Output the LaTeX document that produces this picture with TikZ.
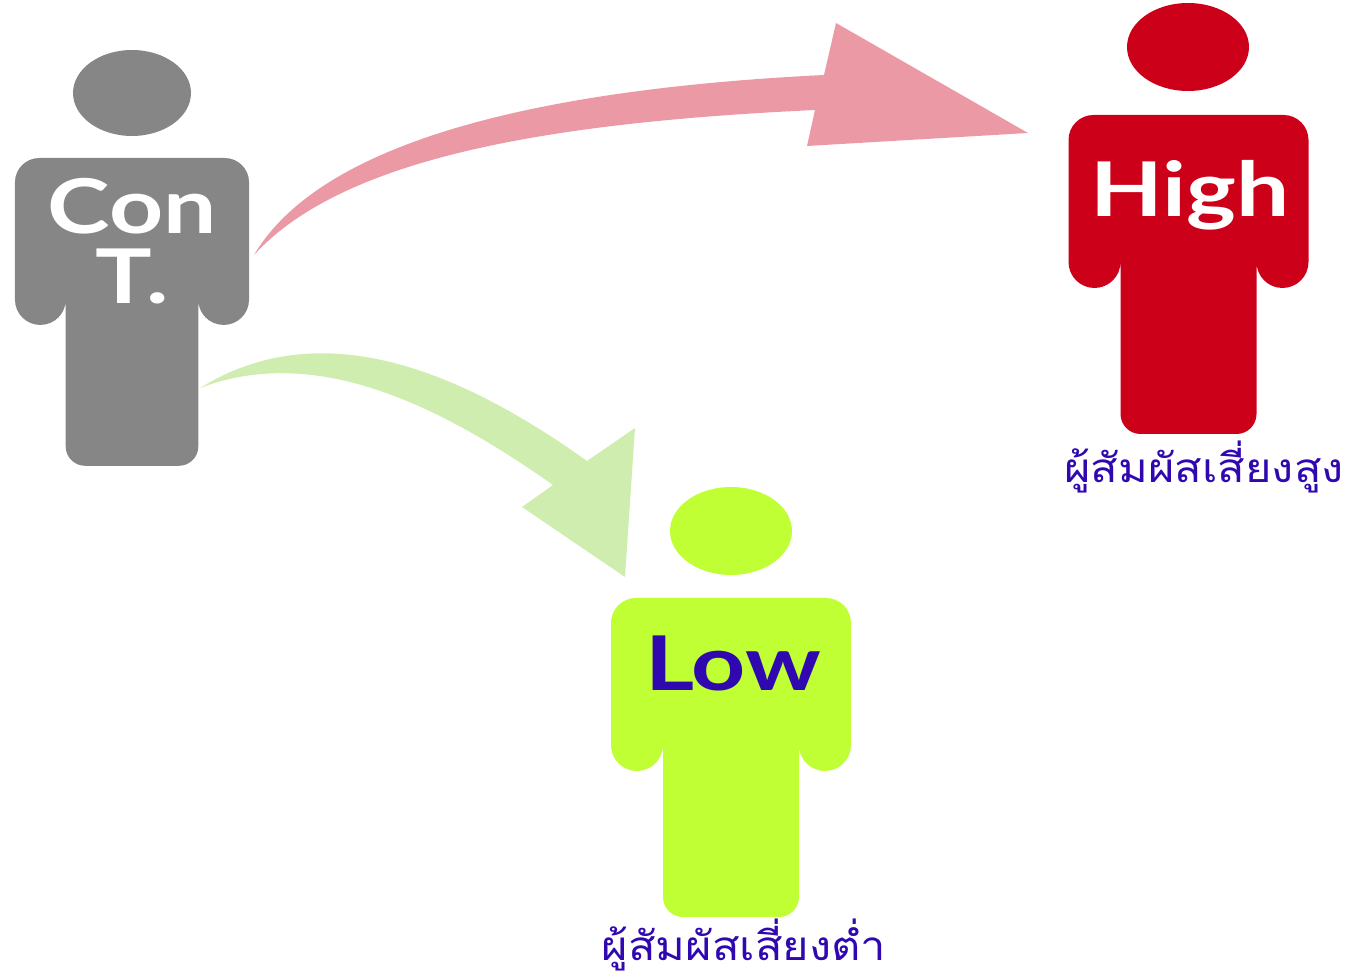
\documentclass[tikz,border=0pt]{standalone}
\usepackage{fontspec}
\setmainfont{Lato}[FakeStretch=1.25]
\newfontfamily\thaifont[Script=Thai,FakeStretch=1.12]{Loma}
\usetikzlibrary{calc,positioning,shapes.geometric}
\definecolor{conGrey}{HTML}{868686}
\definecolor{highRed}{HTML}{CC0019}
\definecolor{lowLime}{HTML}{C0FF33}
\definecolor{labelBlue}{HTML}{3008B0}
\definecolor{arrowRed}{HTML}{EB9AA5}
\definecolor{arrowGreen}{HTML}{CFEDAE}
\tikzset{
    head/.style={ellipse, inner sep=0pt, minimum width=2.44cm, minimum height=1.76cm},
    title/.style={font=\bfseries\fontsize{43pt}{43pt}\selectfont, align=center, inner sep=0pt},
    caption/.style={font=\thaifont\fontsize{23pt}{23pt}\selectfont, text=labelBlue, inner sep=0pt, anchor=base},
    figure/.pic={
        \fill[pic actions] (-120,25) arc (180:270:25) -- (95,0) arc (270:360:25) -- (120,147)
            arc (0:180:26) -- (68,299) arc (0:90:20) -- (-48,319) arc (90:180:20)
            -- (-68,147) arc (0:180:26) -- cycle;
    },
}
\begin{document}
\begin{tikzpicture}[x=0.02cm,y=-0.02cm]
    \useasboundingbox (0,0) rectangle (1357,972);

    % People
    \node[head, fill=conGrey, minimum width=2.36cm, minimum height=1.72cm] (conHead) at (132,93) {};
    \pic[fill=conGrey, xscale=0.975, yscale=0.965] at (132,158) {figure};
    \node[head, fill=highRed] (highHead) at (1188,47) {};
    \pic[fill=highRed] at (1188.5,115) {figure};
    \node[head, fill=lowLime] (lowHead) at (731,531) {};
    \pic[fill=lowLime] at (731,598) {figure};

    % Texts
    \node[title, text=white] (conText) at (132,241) {Con\\[-3pt]T.};
    \node[title, text=white] (highText) at (1190,195) {High};
    \node[title, text=labelBlue] (lowText) at (733,663) {Low};
    \node[caption] (highCaption) at (1204,483) {ผู้สัมผัสเสี่ยงสูง};
    \node[caption] (lowCaption) at (744,961) {ผู้สัมผัสเสี่ยงต่ำ};

    % Arrows
    \coordinate (highTail) at (254,255);
    \coordinate (highTip) at (1028,133);
    \coordinate (lowTail) at (200,388);
    \coordinate (lowTip) at (625,577);
    \fill[arrowRed] (highTail) .. controls (325,135) and (560,88) .. (824,75)
        -- (836,23) -- (highTip) -- (807,146) -- (815,110)
        .. controls (560,122) and (345,155) .. cycle;
    \fill[arrowGreen] (lowTail) .. controls (310,320) and (440,356) .. (587,461)
        -- (635,428) -- (lowTip) -- (522,507) -- (553,485)
        .. controls (430,398) and (310,346) .. cycle;
\end{tikzpicture}
\end{document}
